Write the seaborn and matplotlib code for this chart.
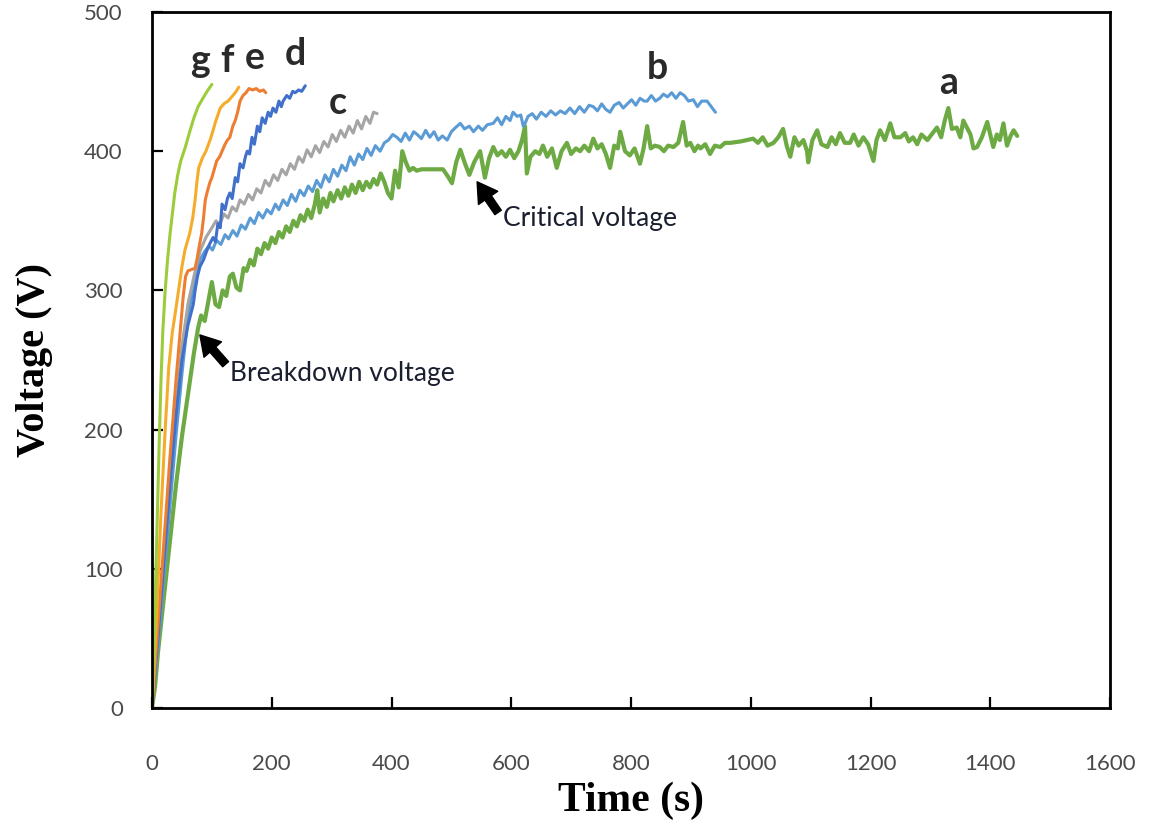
import matplotlib
matplotlib.use("Agg")
import matplotlib.pyplot as plt
import seaborn as sns

# ---- curves: (time in s, voltage in V) ----
a_t = [0, 5, 10, 20, 30, 40, 50, 60, 70, 77,
       82, 88, 94, 100, 106, 112, 118, 124, 130, 135, 141, 147, 153, 158, 164, 170, 176, 182, 188, 194,
       200, 206, 212, 218, 224, 230, 236, 242, 248, 254, 260, 266, 272, 276, 280, 286, 292, 298, 303, 310,
       316, 322, 328, 334, 340, 346, 352, 358, 364, 370, 376, 382, 388, 394, 400, 406, 412, 418, 424, 430,
       436, 442, 450, 470, 486, 494, 501, 508, 515, 522, 530, 538, 548, 556, 563, 570, 577, 584, 591, 598,
       605, 612, 618, 623, 626, 632, 640, 647, 653, 660, 668, 676, 684, 693, 700, 708, 715, 722, 730, 737,
       744, 751, 758, 765, 772, 778, 782, 790, 798, 806, 815, 821, 827, 833, 840, 848, 855, 862, 871, 879,
       887, 893, 899, 906, 912, 916, 924, 932, 940, 949, 957, 966, 983, 1004, 1012, 1020, 1028, 1038, 1046, 1054,
       1060, 1066, 1073, 1080, 1088, 1094, 1096, 1103, 1111, 1118, 1128, 1135, 1142, 1149, 1157, 1166, 1172, 1180, 1188, 1196,
       1205, 1210, 1216, 1224, 1233, 1240, 1250, 1258, 1264, 1271, 1278, 1285, 1295, 1302, 1311, 1318, 1324, 1330, 1336, 1344,
       1350, 1355, 1361, 1367, 1372, 1378, 1386, 1395, 1400, 1405, 1411, 1416, 1422, 1428, 1434, 1439, 1445]
a_v = [0, 15, 40, 80, 120, 160, 195, 225, 255, 273,
       282, 278, 292, 306, 290, 288, 300, 296, 310, 312, 302, 300, 316, 314, 322, 318, 330, 326, 334, 330,
       338, 334, 342, 338, 346, 342, 350, 346, 354, 350, 358, 352, 362, 372, 356, 366, 360, 370, 364, 372,
       366, 374, 368, 376, 370, 378, 372, 378, 374, 380, 376, 384, 378, 370, 366, 386, 374, 400, 392, 386,
       388, 386, 387, 387, 387, 382, 377, 392, 401, 392, 383, 392, 400, 381, 395, 403, 397, 400, 396, 401,
       395, 400, 408, 418, 384, 396, 400, 398, 404, 396, 402, 388, 400, 406, 398, 402, 400, 404, 400, 409,
       402, 405, 398, 388, 404, 402, 414, 400, 397, 402, 391, 402, 418, 402, 404, 403, 400, 404, 403, 406,
       421, 404, 406, 400, 404, 402, 405, 398, 404, 403, 406, 406, 407, 409, 406, 410, 404, 406, 410, 416,
       404, 396, 410, 404, 408, 400, 392, 408, 415, 405, 403, 410, 405, 413, 406, 406, 412, 404, 410, 405,
       393, 408, 415, 408, 420, 410, 410, 413, 407, 410, 405, 412, 408, 412, 417, 410, 422, 431, 416, 417,
       410, 422, 417, 412, 402, 403, 410, 421, 412, 403, 412, 408, 420, 404, 411, 415, 411]

b_t = [0, 10, 20, 30, 40, 50, 60, 70, 80, 88, 95, 101, 108, 115, 122, 128, 135, 142, 149, 156,
       164, 171, 178, 185, 192, 199, 206, 212, 219, 226, 233, 240, 247, 254, 261, 268, 275, 282, 289, 296,
       303, 310, 317, 324, 331, 338, 345, 352, 359, 366, 373, 381, 388, 395, 402, 409, 416, 423, 430, 437,
       443, 450, 457, 464, 471, 478, 485, 493, 500, 507, 515, 522, 530, 537, 545, 552, 560, 570, 577, 584,
       591, 598, 603, 610, 616, 620, 623, 628, 635, 642, 650, 658, 666, 674, 682, 690, 698, 706, 714, 722,
       730, 737, 744, 751, 758, 765, 772, 780, 787, 794, 801, 808, 815, 822, 827, 834, 841, 848, 854, 861,
       868, 875, 882, 889, 896, 904, 911, 918, 927, 934, 941]
b_v = [0, 45, 95, 145, 195, 240, 280, 305, 322, 328, 332, 329, 336, 333, 340, 337, 343, 339, 347, 344,
       352, 348, 356, 352, 358, 355, 362, 358, 365, 361, 369, 364, 372, 368, 375, 371, 379, 374, 383, 378,
       387, 382, 390, 386, 396, 390, 398, 394, 402, 397, 404, 400, 406, 408, 412, 410, 407, 413, 408, 414,
       412, 409, 415, 410, 414, 408, 411, 408, 414, 417, 420, 416, 418, 414, 418, 415, 419, 420, 424, 419,
       425, 422, 428, 425, 426, 418, 420, 425, 427, 423, 428, 425, 429, 426, 429, 427, 431, 427, 432, 428,
       433, 432, 429, 434, 430, 428, 433, 435, 431, 434, 437, 433, 438, 436, 436, 440, 436, 438, 441, 439,
       442, 438, 442, 440, 436, 437, 432, 436, 436, 432, 428]

c_t = [0, 10, 20, 30, 40, 50, 60, 70, 80, 90, 100, 107, 113, 120, 127, 134, 141, 147, 154, 161,
       168, 175, 182, 189, 196, 203, 210, 217, 224, 231, 238, 245, 252, 259, 266, 273, 280, 287, 294, 301,
       308, 315, 322, 329, 336, 343, 350, 357, 364, 370, 376]
c_v = [0, 50, 105, 160, 215, 260, 290, 310, 328, 338, 345, 350, 347, 355, 352, 360, 357, 365, 362, 369,
       365, 373, 370, 379, 375, 383, 379, 387, 383, 391, 387, 396, 392, 401, 396, 404, 399, 407, 403, 412,
       407, 415, 410, 418, 413, 422, 416, 425, 420, 428, 427]

d_t = [0, 10, 20, 30, 40, 50, 60, 69, 72, 76, 80, 86, 92, 97, 102, 106, 110, 114, 117, 122,
       126, 130, 134, 139, 143, 147, 152, 156, 159, 163, 167, 171, 176, 180, 184, 189, 194, 198, 202, 207,
       212, 216, 219, 225, 230, 235, 239, 245, 250, 256]
d_v = [0, 50, 105, 160, 210, 250, 275, 290, 300, 310, 317, 322, 329, 334, 338, 335, 348, 345, 362, 358,
       366, 370, 366, 381, 378, 391, 388, 396, 400, 398, 410, 405, 418, 414, 424, 420, 428, 425, 431, 428,
       436, 432, 436, 440, 438, 443, 442, 444, 443, 447]

e_t = [0, 10, 20, 30, 40, 48, 52, 56, 60, 66, 72, 75, 79, 83, 86, 89, 93, 97, 100, 104,
       108, 113, 117, 122, 126, 130, 135, 139, 143, 147, 152, 157, 162, 168, 174, 180, 186, 190]
e_v = [0, 60, 120, 180, 235, 275, 295, 310, 314, 315, 316, 322, 332, 341, 352, 365, 372, 378, 381, 387,
       393, 396, 400, 405, 408, 410, 418, 422, 428, 436, 440, 442, 445, 444, 445, 443, 444, 442]

f_t = [0, 8, 15, 22, 28, 34, 42, 50, 55, 63, 68, 72, 75, 78, 84, 90, 97, 102, 106, 110,
       114, 120, 127, 133, 139, 145]
f_v = [0, 70, 140, 200, 245, 270, 293, 317, 329, 341, 352, 365, 378, 388, 395, 400, 408, 415, 421, 426,
       431, 434, 436, 439, 442, 446]

g_t = [0, 3, 6, 9, 12, 15, 18, 22, 26, 30, 34, 38, 43, 48, 55, 63, 70, 77, 85, 92, 100]
g_v = [0, 40, 90, 140, 190, 235, 270, 300, 322, 340, 355, 370, 383, 393, 402, 414, 424, 432, 438, 443, 448]

series_names = ["a", "b", "c", "d", "e", "f", "g"]
series_colors = ["#6DAA43", "#5B9BD5", "#A5A5A5", "#4170CB", "#ED7D31", "#F5AC2A", "#9CCC3C"]
series_widths = [3.0, 2.2, 2.2, 2.2, 2.2, 2.2, 2.2]
series_data = [(a_t, a_v), (b_t, b_v), (c_t, c_v), (d_t, d_v), (e_t, e_v), (f_t, f_v), (g_t, g_v)]

# curve letters: (text, time, voltage at baseline)
letter_pos = [("g", 80, 457), ("f", 125, 457), ("e", 172, 459), ("d", 239, 462),
              ("c", 311, 427), ("b", 844, 452), ("a", 1330, 441)]

x_ticks = [0, 200, 400, 600, 800, 1000, 1200, 1400, 1600]
y_ticks = [0, 100, 200, 300, 400, 500]

sns.set_theme(style="white")
plt.rcParams["font.family"] = ["Lato", "DejaVu Sans"]

fig = plt.figure(figsize=(11.55, 8.34), dpi=100)
ax = fig.add_axes([152 / 1155, 1 - 708 / 834, 958 / 1155, 696 / 834])

for name, (t, v), col, lw in zip(series_names, series_data, series_colors, series_widths):
    sns.lineplot(x=t, y=v, ax=ax, color=col, linewidth=lw, sort=False,
                 estimator=None, legend=False)

ax.set_xlim(0, 1600)
ax.set_ylim(0, 500)
ax.set_xticks(x_ticks)
ax.set_yticks(y_ticks)
ax.set_xticklabels([str(t) for t in x_ticks])
ax.set_yticklabels([str(t) for t in y_ticks])
ax.tick_params(axis="both", direction="in", length=8, width=1.6, color="black",
               labelsize=16, labelcolor="#4a4a4a")
ax.tick_params(axis="x", pad=33, top=False, bottom=True)
ax.tick_params(axis="y", pad=21, left=True, right=False)

for sp in ax.spines.values():
    sp.set_visible(True)
    sp.set_color("black")
    sp.set_linewidth(2.0)

serif = ["Liberation Serif", "DejaVu Serif"]
ax.set_xlabel("Time (s)", fontsize=30, fontweight="bold", family=serif, color="black")
ax.set_ylabel("Voltage (V)", fontsize=29, fontweight="bold", family=serif, color="black")
ax.xaxis.set_label_coords(0.5, -0.105)
ax.yaxis.set_label_coords(-0.103, 0.5)

for txt, tx, ty in letter_pos:
    ax.text(tx, ty, txt, fontsize=27, fontweight="bold", color="#2a2a2a",
            ha="center", va="baseline")

# annotations with thick arrows
arrow_style = "simple,head_width=1.2,head_length=1.0,tail_width=0.4"
ax.annotate("", xy=(543, 378), xytext=(578, 356),
            arrowprops=dict(arrowstyle=arrow_style, color="black", mutation_scale=14,
                            shrinkA=0, shrinkB=0))
ax.text(586, 352, "Critical voltage", fontsize=19, color="#1a1f30",
        ha="left", va="center")

ax.annotate("", xy=(80, 268), xytext=(123, 247),
            arrowprops=dict(arrowstyle=arrow_style, color="black", mutation_scale=14,
                            shrinkA=0, shrinkB=0))
ax.text(130, 240, "Breakdown voltage", fontsize=19, color="#1a1f30",
        ha="left", va="center")

fig.savefig("out.png", dpi=100)
